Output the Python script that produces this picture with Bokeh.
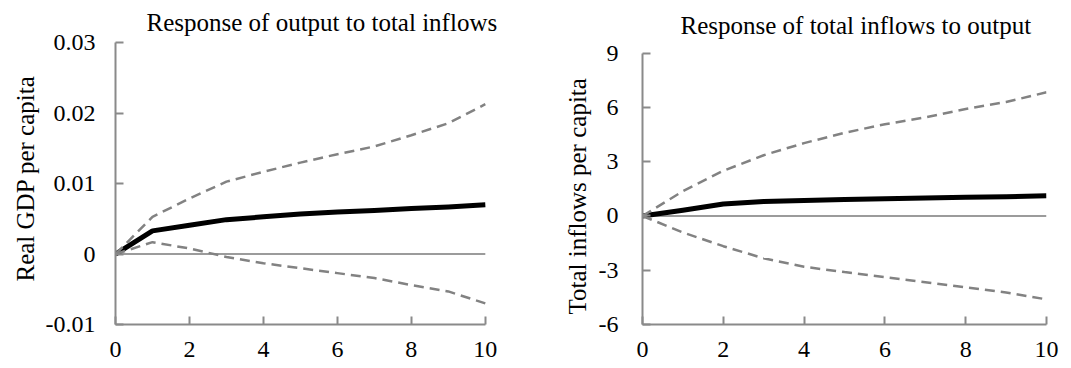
from bokeh.plotting import figure
from bokeh.layouts import row
from bokeh.models import Range1d, FixedTicker, Title, Label
from bokeh.embed import file_html
from bokeh.resources import INLINE

# ---- data ----
horizon = [0, 1, 2, 3, 4, 5, 6, 7, 8, 9, 10]

gdp_resp = [0, 0.0033, 0.0041, 0.0049, 0.0053, 0.0057, 0.0060, 0.0062, 0.0065, 0.0067, 0.0070]
gdp_upper = [0, 0.0053, 0.0079, 0.0103, 0.0117, 0.0130, 0.0142, 0.0153, 0.0169, 0.0186, 0.0213]
gdp_lower = [0, 0.0017, 0.0008, -0.0004, -0.0013, -0.0020, -0.0027, -0.0034, -0.0044, -0.0053, -0.0070]

inf_resp = [0, 0.32, 0.66, 0.80, 0.85, 0.91, 0.95, 0.99, 1.03, 1.06, 1.12]
inf_upper = [0, 1.37, 2.50, 3.36, 4.03, 4.60, 5.07, 5.45, 5.92, 6.30, 6.84]
inf_lower = [0, -0.91, -1.67, -2.34, -2.81, -3.10, -3.38, -3.66, -3.95, -4.23, -4.61]

x_ticks = [0, 2, 4, 6, 8, 10]
left_yticks = [-0.01, 0, 0.01, 0.02, 0.03]
left_ylabels = ["-0.01", "0", "0.01", "0.02", "0.03"]
right_yticks = [-6, -3, 0, 3, 6, 9]
right_ylabels = ["-6", "-3", "0", "3", "6", "9"]

titles = ["Response of output to total inflows", "Response of total inflows to output"]
ylabels = ["Real  GDP per capita", "Total  inflows per capita"]

FONT = "Liberation Serif"
AXIS_COLOR = "#8a8a8a"
DASH_COLOR = "#828282"


def make_panel(w, h, mb, xr, yr, ybounds, yticks, ylabs, resp, upper, lower,
               title, title_xy, ylabel, ylab_offset, ylab_standoff, ytick_standoff, xstandoff):
    p = figure(width=w, height=h, x_range=Range1d(*xr), y_range=Range1d(*yr),
               min_border_left=mb[0], min_border_right=mb[1], min_border_top=mb[2],
               min_border_bottom=mb[3], output_backend="svg", toolbar_location=None)
    p.outline_line_color = None
    p.grid.visible = False
    p.background_fill_color = "white"

    p.xaxis.ticker = FixedTicker(ticks=x_ticks)
    p.xaxis.bounds = (horizon[0], horizon[-1])
    p.yaxis.ticker = FixedTicker(ticks=yticks)
    p.yaxis.bounds = ybounds
    p.yaxis.major_label_overrides = {t: l for t, l in zip(yticks, ylabs)}
    for ax in (p.xaxis, p.yaxis):
        ax.axis_line_color = AXIS_COLOR
        ax.axis_line_width = 2
        ax.major_tick_line_color = AXIS_COLOR
        ax.major_tick_line_width = 2
        ax.major_tick_in = 8
        ax.major_tick_out = 0
        ax.minor_tick_line_color = None
        ax.major_label_text_font = FONT
        ax.major_label_text_font_size = "24px"
        ax.major_label_text_color = "black"
    p.xaxis.major_label_standoff = xstandoff
    p.yaxis.major_label_standoff = ytick_standoff

    # y-axis title in the left border, outside the tick labels
    p.add_layout(Title(text=ylabel, text_font=FONT, text_font_size="25px",
                       text_font_style="normal", text_color="black",
                       align="left", offset=ylab_offset, standoff=ylab_standoff), "left")

    # zero reference line across the plotted horizon
    p.segment(x0=horizon[0], y0=0, x1=horizon[-1], y1=0, line_color="#7a7a7a", line_width=1.5)

    p.line(horizon, resp, line_color="black", line_width=5, line_join="round")
    p.line(horizon, upper, line_color=DASH_COLOR, line_width=2.5, line_dash="10 6")
    p.line(horizon, lower, line_color=DASH_COLOR, line_width=2.5, line_dash="10 6")

    p.add_layout(Label(x=title_xy[0], y=title_xy[1], text=title, text_font=FONT,
                       text_font_size="25px", text_baseline="middle", text_align="left",
                       text_color="black"))
    return p


left = make_panel(540, 368, (115, 33, 0, 44), (0, 10.6), (-0.01, 0.036039), (-0.01, 0.03),
                  left_yticks, left_ylabels, gdp_resp, gdp_upper, gdp_lower,
                  titles[0], (0.838, 0.032913), ylabels[0], 43, 8, 20, 17)
right = make_panel(530, 368, (102, 24, 0, 44), (0, 10), (-6, 11.914), (-6, 9),
                   right_yticks, right_ylabels, inf_resp, inf_upper, inf_lower,
                   titles[1], (0.94, 10.531), ylabels[1], 10, 9, 24, 17)

layout = row(left, right)
open("out.html", "w").write(file_html(layout, INLINE))
